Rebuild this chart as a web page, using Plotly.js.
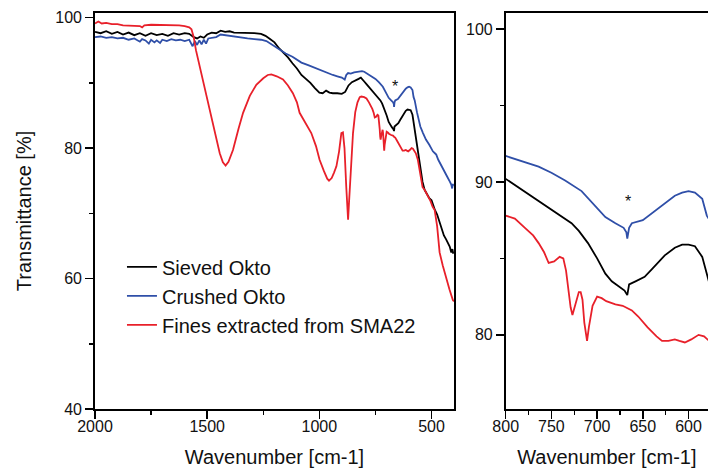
<!DOCTYPE html>
<html>
<head>
<meta charset="utf-8">
<script src="https://cdn.plot.ly/plotly-3.0.1.min.js"></script>
<style>
  html, body { margin: 0; padding: 0; background: #fff; overflow: hidden; }
  #chart { width: 708px; height: 471px; }
</style>
</head>
<body>
<div id="chart"></div>
<script>
// ---- Data ----
const sievedWn = [2000,1975,1950,1925,1900,1875,1850,1825,1800,1775,1750,1725,1700,1675,1650,1625,1600,1580,1560,1545,1530,1515,1500,1480,1460,1440,1420,1400,1380,1350,1320,1290,1260,1240,1220,1200,1180,1160,1140,1120,1100,1080,1060,1040,1020,1000,985,970,955,940,920,900,885,870,855,840,825,815,805,800,790,775,764,750,740,728,720,710,700,691,684,677,670,667,665,658,648,640,626,615,607,600,593,585,579,570,561,550,540,531,520,510,500,494,485,475,464,455,445,435,425,419,412,407,403];
const sievedT = [97.8,97.6,97.9,97.5,97.8,97.4,97.7,97.3,97.6,97.2,97.6,97.3,97.5,97.2,97.6,97.4,97.6,97.5,97.0,96.8,97.1,96.9,97.4,97.7,97.6,98.0,97.8,97.9,97.7,97.7,97.6,97.6,97.5,97.2,96.7,96.2,95.3,94.6,93.9,93.0,92.2,91.2,90.6,90.0,89.2,88.5,88.4,88.8,88.5,88.4,88.4,88.3,88.6,89.6,90.1,90.3,90.6,90.8,90.5,90.2,89.8,89.2,88.8,88.2,87.8,87.3,86.8,86.0,85.0,84.0,83.5,83.2,82.9,82.6,83.3,83.5,83.8,84.3,85.2,85.7,85.9,85.9,85.8,85.1,83.8,81.8,79.7,77.3,74.8,73.6,73.0,72.3,72.0,71.3,70.5,69.8,68.5,67.5,66.6,66.0,65.4,64.9,64.0,64.5,63.8];

const crushedWn = [2000,1975,1950,1925,1900,1875,1850,1825,1800,1790,1775,1760,1750,1735,1725,1710,1700,1680,1660,1640,1620,1600,1580,1565,1555,1545,1535,1525,1515,1505,1495,1480,1460,1440,1420,1400,1380,1350,1320,1290,1260,1236,1210,1190,1177,1150,1120,1103,1080,1050,1020,1000,984,960,940,920,900,887,880,872,860,845,830,820,810,800,790,780,764,750,735,717,705,691,680,671,668,667,665,662,650,637,625,615,607,600,593,585,580,575,565,550,538,525,510,494,485,479,470,460,449,440,430,419,412,408,405,403];
const crushedT = [97.0,97.1,96.9,97.0,96.8,96.9,96.6,96.8,96.3,96.7,96.5,96.0,96.6,96.2,96.5,96.1,96.6,96.4,96.7,96.5,96.6,96.4,96.6,95.6,96.4,95.8,96.5,95.9,96.6,96.0,96.8,96.9,97.0,97.4,97.3,97.2,97.0,96.9,96.8,96.7,96.6,96.4,95.8,95.4,95.1,94.5,94.0,93.6,93.1,92.7,92.3,92.0,91.8,91.4,91.2,91.0,90.8,90.5,91.2,91.5,91.4,91.6,91.7,91.8,91.8,91.7,91.5,91.3,91.0,90.6,90.1,89.4,88.6,87.7,87.3,87.0,86.7,86.3,87.0,87.3,87.5,88.1,88.7,89.1,89.3,89.4,89.3,88.9,87.8,87.3,85.5,83.3,82.3,81.3,80.5,79.5,79.2,79.0,78.2,77.6,76.9,76.2,75.6,74.9,74.4,73.8,74.5,74.2];

const finesWn = [2000,1985,1970,1950,1925,1900,1875,1850,1825,1800,1790,1780,1750,1725,1700,1675,1650,1625,1600,1580,1570,1560,1550,1533,1510,1489,1465,1444,1430,1418,1405,1385,1360,1340,1310,1281,1250,1230,1214,1190,1162,1140,1118,1100,1088,1060,1036,1015,999,980,965,957,945,935,924,912,902,895,888,880,875,872,868,860,850,840,830,820,813,800,790,779,770,764,758,753,747,741,737,734,731,729,727,724,720,718,716,714,712,711,709,705,700,695,690,680,672,666,662,655,645,635,629,622,615,610,604,597,589,583,579,570,561,550,540,531,520,505,495,486,475,464,450,434,420,405,400];
const finesT = [99.1,99.4,99.1,99.2,99.0,99.0,98.8,98.8,98.8,98.7,98.5,98.8,98.9,98.9,98.9,98.8,98.9,98.8,98.7,98.5,98.2,97.0,95.0,92.5,89.0,85.9,82.5,79.2,77.8,77.3,77.9,79.7,83.0,85.4,88.0,89.7,90.7,91.2,91.3,91.0,90.5,89.6,88.4,87.0,85.4,83.8,82.3,80.3,78.2,76.5,75.3,75.0,75.4,76.2,77.2,79.5,82.3,82.4,80.0,74.0,69.5,69.0,71.5,77.0,82.3,85.5,87.0,87.8,87.9,87.8,87.6,87.0,86.5,86.0,85.4,84.7,84.8,85.1,85.0,84.2,82.9,81.8,81.3,81.9,82.8,82.8,82.3,80.8,79.8,79.6,80.5,81.9,82.5,82.4,82.2,82.0,81.9,81.7,81.6,81.2,80.5,79.9,79.6,79.6,79.7,79.6,79.5,79.7,80.0,79.9,79.7,79.2,78.2,76.0,74.0,73.6,72.9,71.9,71.0,70.5,68.0,64.0,62.0,59.8,58.3,56.7,56.5];

const seriesNames = ["Sieved Okto", "Crushed Okto", "Fines extracted from SMA22"];
const seriesColors = ["#000000", "#2f4fa8", "#e8202a"];
const leftXTicks = [2000, 1500, 1000, 500];
const leftYTicks = [40, 60, 80, 100];
const rightXTicks = [800, 750, 700, 650, 600];
const rightYTicks = [80, 90, 100];
const starMarks = [{x: 664, y: 89.5, panel: 1}, {x: 666.5, y: 88.7, panel: 2}];

const xTitle = "Wavenumber [cm-1]";
const yTitle = "Transmittance [%]";

const FONT = "Liberation Sans, Arial, Helvetica, sans-serif";
const seriesX = [sievedWn, crushedWn, finesWn];
const seriesY = [sievedT, crushedT, finesT];

const traces = [];
for (let i = 0; i < 3; i++) {
  traces.push({
    x: seriesX[i], y: seriesY[i], type: "scatter", mode: "lines",
    name: seriesNames[i], line: {color: seriesColors[i], width: 1.8},
    xaxis: "x", yaxis: "y", showlegend: true
  });
}
for (let i = 0; i < 3; i++) {
  traces.push({
    x: seriesX[i], y: seriesY[i], type: "scatter", mode: "lines",
    name: seriesNames[i], line: {color: seriesColors[i], width: 1.8},
    xaxis: "x2", yaxis: "y2", showlegend: false
  });
}

const axisCommon = {
  showgrid: false, zeroline: false, showline: true, linecolor: "#000", linewidth: 1.8,
  ticks: "outside", ticklen: 8, tickwidth: 1.5, tickcolor: "#000",
  tickfont: {family: FONT, size: 16, color: "#111"}
};

const layout = {
  width: 708, height: 471,
  margin: {l: 95, r: 0, t: 13, b: 62},
  paper_bgcolor: "#fff", plot_bgcolor: "#fff",
  font: {family: FONT, color: "#111"},
  showlegend: true,
  legend: {
    x: 0.044, y: 0.408, xanchor: "left", yanchor: "top",
    bgcolor: "rgba(0,0,0,0)", borderwidth: 0,
    font: {family: FONT, size: 20, color: "#111"},
    tracegroupgap: 0
  },
  xaxis: Object.assign({}, axisCommon, {
    domain: [0, 0.5856], range: [2000, 400], anchor: "y",
    tickvals: leftXTicks, mirror: true, ticklabelstandoff: -6,
    minor: {dtick: 250, tick0: 0, ticks: "outside", ticklen: 4, tickwidth: 1.5, tickcolor: "#000"},
    title: {text: xTitle, font: {family: FONT, size: 20, color: "#111"}, standoff: 16}
  }),
  yaxis: Object.assign({}, axisCommon, {
    domain: [0, 1], range: [40, 100.7], anchor: "x",
    tickvals: leftYTicks, mirror: true,
    minor: {dtick: 10, tick0: 0, ticks: "outside", ticklen: 4, tickwidth: 1.5, tickcolor: "#000"},
    title: {text: yTitle, font: {family: FONT, size: 20, color: "#111"}, standoff: 18}
  }),
  xaxis2: Object.assign({}, axisCommon, {
    domain: [0.670, 1], range: [800, 578.7], anchor: "y2",
    tickvals: rightXTicks, mirror: true, ticklabelstandoff: -6,
    minor: {dtick: 25, tick0: 0, ticks: "outside", ticklen: 4, tickwidth: 1.5, tickcolor: "#000"},
    title: {text: xTitle, font: {family: FONT, size: 20, color: "#111"}, standoff: 16}
  }),
  yaxis2: Object.assign({}, axisCommon, {
    domain: [0, 1], range: [75.15, 101.05], anchor: "x2",
    tickvals: rightYTicks, mirror: false,
    minor: {dtick: 5, tick0: 0, ticks: "outside", ticklen: 4, tickwidth: 1.5, tickcolor: "#000"}
  }),
  annotations: starMarks.map(s => ({
    x: s.x, y: s.y, xref: s.panel === 1 ? "x" : "x2", yref: s.panel === 1 ? "y" : "y2",
    text: "*", showarrow: false, font: {family: FONT, size: 16, color: "#111"}
  }))
};

Plotly.newPlot("chart", traces, layout, {displayModeBar: false, staticPlot: true});
</script>
</body>
</html>
